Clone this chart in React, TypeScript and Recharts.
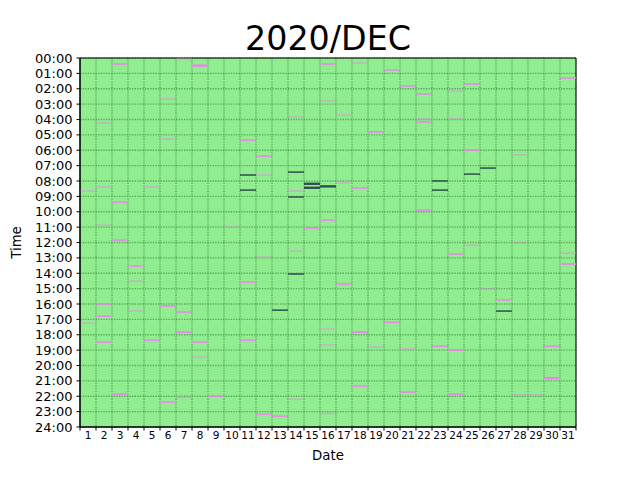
import { ComposedChart, XAxis, YAxis, CartesianGrid, ReferenceLine, ReferenceArea } from "recharts";

const TITLE = "2020/DEC";
const DAY_COUNT = 31;
const dayBounds = Array.from({ length: DAY_COUNT + 1 }, (_, i) => i);
const hourTicks = Array.from({ length: 25 }, (_, i) => i);

// violet marks: day, hour of day, level (1 thin .. 3 heavy)
const violetDay = [
  1, 1,
  2, 2, 2, 2, 2, 2,
  3, 3, 3, 3,
  4, 4, 4,
  5, 5,
  6, 6, 6, 6,
  7, 7, 7, 7,
  8, 8, 8,
  9, 10,
  11, 11, 11,
  12, 12, 12, 12,
  13,
  14, 14, 14, 14,
  15,
  16, 16, 16, 16, 16, 16,
  17, 17, 17,
  18, 18, 18, 18,
  19, 19,
  20, 20,
  21, 21, 21,
  22, 22, 22, 22,
  23,
  24, 24, 24, 24, 24,
  25, 25, 25,
  26, 27,
  28, 28, 28, 29,
  30, 30,
  31, 31, 31,
];
const violetHour = [
  8.65, 17.24,
  4.23, 8.39, 10.87, 16.0, 16.79, 18.48,
  0.39, 9.37, 11.84, 21.86,
  13.53, 14.51, 16.46,
  8.39, 18.35,
  2.67, 5.27, 16.13, 22.38,
  0.07, 16.52, 17.83, 22.06,
  0.5, 18.48, 19.45,
  21.99, 11.0,
  5.34, 14.57, 18.35,
  6.38, 7.61, 12.95, 23.16,
  23.29,
  3.84, 8.65, 12.56, 22.19,
  11.06,
  0.39, 2.8, 10.54, 17.63, 18.67, 23.1,
  3.71, 8.13, 14.7,
  0.33, 8.46, 17.83, 21.34,
  4.81, 18.8,
  0.78, 17.18,
  1.82, 18.92, 21.73,
  2.34, 3.97, 4.16, 9.89,
  18.74,
  2.15, 3.97, 12.75, 19.0, 21.86,
  1.69, 5.99, 12.17,
  15.03, 15.74,
  6.31, 12.04, 21.92, 21.92,
  18.74, 20.82,
  1.3, 12.69, 13.4,
];
const violetLevel = [
  1, 1,
  1, 1, 1, 2, 2, 2,
  2, 2, 2, 2,
  2, 1, 1,
  1, 2,
  1, 1, 2, 2,
  1, 2, 2, 1,
  3, 2, 1,
  2, 1,
  2, 2, 2,
  2, 1, 1, 2,
  2,
  1, 1, 1, 1,
  2,
  2, 1, 2, 1, 1, 1,
  1, 1, 2,
  1, 2, 2, 2,
  2, 1,
  2, 2,
  2, 1, 2,
  2, 1, 2, 2,
  2,
  1, 1, 2, 2, 2,
  2, 2, 1,
  1, 2,
  1, 1, 1, 1,
  2, 3,
  2, 1, 2,
];

// dark marks
const slateDay = [11, 11, 13, 14, 14, 14, 15, 15, 16, 23, 23, 25, 26, 27];
const slateHour = [7.61, 8.59, 16.4, 7.42, 9.04, 14.05, 8.18, 8.44, 8.35, 8.0, 8.59, 7.55, 7.16, 16.46];
const slateLevel = [2, 2, 2, 2, 2, 2, 3, 3, 3, 2, 2, 2, 2, 2];

const VIOLET = "#ee82ee";
const SLATE = "#2f4f4f";
const BG = "#90ee90";
const FONT = "DejaVu Sans, sans-serif";
const widthOf: Record<number, number> = { 1: 0.8, 2: 1.5, 3: 2.4 };

const PLOT_W = 496;
const COL_W = PLOT_W / DAY_COUNT;

const DayTick = (props: any) => {
  const { x, y, payload } = props;
  if (payload.value >= DAY_COUNT) return <g />;
  return (
    <text x={x + COL_W / 2} y={y} dy="0.71em" textAnchor="middle" fontSize={10.5} fill="#000" fontFamily={FONT}>
      {payload.value + 1}
    </text>
  );
};

const fmtHour = (h: number) => `${String(h).padStart(2, "0")}:00`;

const marks = [
  ...violetDay.map((d, i) => ({ d, h: violetHour[i], lv: violetLevel[i], color: VIOLET })),
  ...slateDay.map((d, i) => ({ d, h: slateHour[i], lv: slateLevel[i], color: SLATE })),
];

export default function App() {
  return (
    <div style={{ position: "absolute", left: 0, top: 0, width: 640, height: 480, background: "#fff" }}>
      <div style={{ position: "absolute", left: 0, top: 22, width: 656, textAlign: "center", fontFamily: FONT, fontSize: 33.3, lineHeight: 1 }}>
        {TITLE}
      </div>
      <ComposedChart width={640} height={480} data={[]} margin={{ top: 58, right: 64, left: 0, bottom: 0 }}>
        <CartesianGrid
          fill={BG}
          stroke="#4a944a"
          strokeOpacity={0.8}
          strokeWidth={1.3}
          strokeDasharray="1.3 1.3"
        />
        <XAxis
          type="number"
          dataKey="d"
          domain={[0, DAY_COUNT]}
          ticks={dayBounds}
          interval={0}
          height={53}
          tickSize={3.5}
          tickMargin={1}
          tick={<DayTick />}
          stroke="#000"
          allowDataOverflow
          label={{ value: "Date", position: "insideBottom", offset: 20, fill: "#000", fontSize: 13.3, fontFamily: FONT }}
        />
        <YAxis
          type="number"
          dataKey="h"
          reversed
          domain={[0, 24]}
          ticks={hourTicks}
          interval={0}
          width={80}
          tickSize={3.5}
          tickMargin={4}
          tickFormatter={fmtHour}
          tick={{ fill: "#000", fontSize: 13, fontFamily: FONT }}
          stroke="#000"
          allowDataOverflow
          label={{ value: "Time", angle: -90, position: "insideLeft", offset: 16, fill: "#000", fontSize: 13.3, fontFamily: FONT, style: { textAnchor: "middle" } }}
        />
        {marks.map((m, i) => (
          <ReferenceLine
            key={i}
            segment={[{ x: m.d - 1, y: m.h }, { x: m.d, y: m.h }]}
            stroke={m.color}
            strokeWidth={widthOf[m.lv]}
            ifOverflow="visible"
          />
        ))}
        <ReferenceArea x1={0} x2={DAY_COUNT} y1={0} y2={24} fill="none" stroke="#000" strokeWidth={1} fillOpacity={0} ifOverflow="visible" />
      </ComposedChart>
    </div>
  );
}
